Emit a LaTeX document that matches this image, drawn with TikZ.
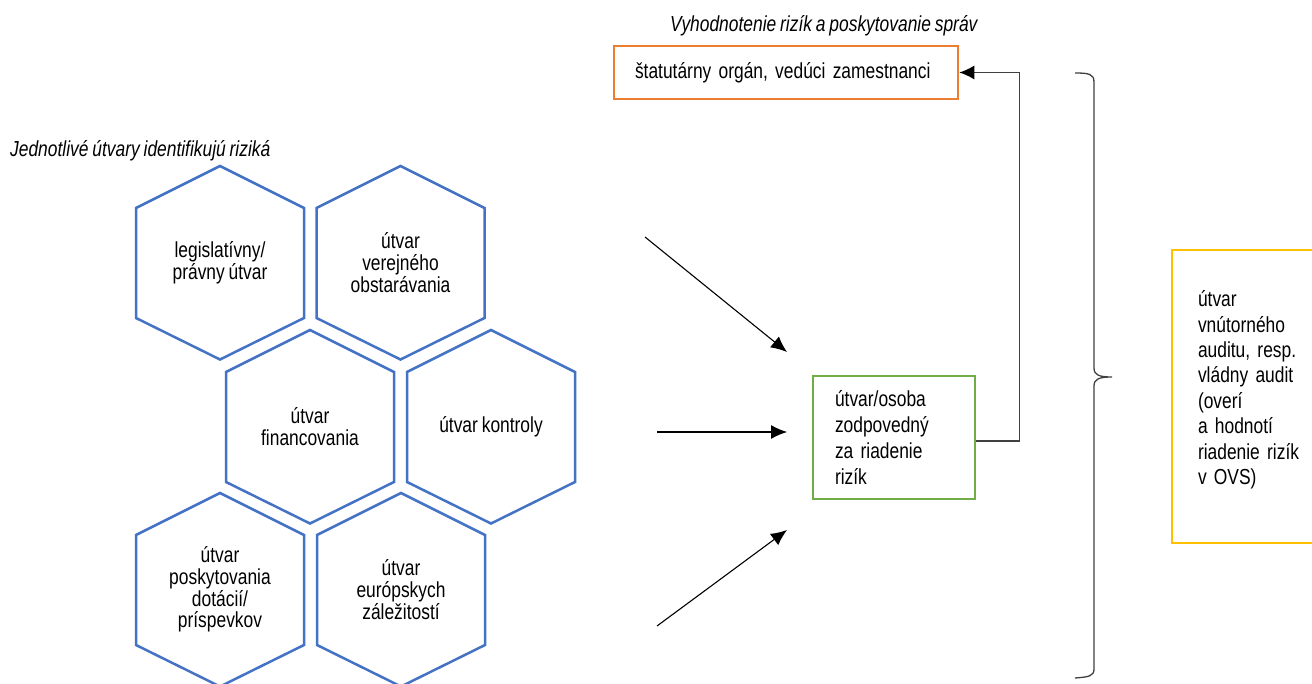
\documentclass[tikz,border=0pt]{standalone}
\usepackage{fontspec}
\setmainfont{Liberation Sans}[FakeStretch=0.8,WordSpace=0.8]
\usetikzlibrary{arrows.meta,calc}
\definecolor{hexblue}{HTML}{4472C4}
\definecolor{boxorange}{HTML}{ED7D31}
\definecolor{boxgreen}{HTML}{70AD47}
\definecolor{boxyellow}{HTML}{FFC000}
\definecolor{conngray}{HTML}{404040}
\newcommand\txtfont{\fontsize{21.75}{21.7}\selectfont}
\tikzset{
  hextext/.style={align=center, inner sep=0pt, font=\txtfont},
  hexline/.style={draw=hexblue, line width=2.5pt, line join=miter},
  title/.style={inner sep=0pt, font=\txtfont\itshape},
  flowarrow/.style={draw=black, line width=1.1pt, -{Latex[length=16pt,width=14pt]}},
  conn/.style={draw=conngray, line width=1.4pt, -{Latex[length=15pt,width=14pt,fill=black,color=black]}},
  brace/.style={draw=conngray, line width=1.3pt},
}
\newcommand\hexa[4]{%
  \node[hextext] (#1) at (#2,#3) {#4};
  \draw[hexline] ([shift={(0,-96.5)}]#1.center) -- ++(84,42) -- ++(0,110) -- ++(-84,41.5) -- ++(-84,-41.5) -- ++(0,-110) -- cycle;
}
\begin{document}
\begin{tikzpicture}[x=1pt,y=-1pt]
\useasboundingbox (0,0) rectangle (1312,684);
\fill[white] (0,0) rectangle (1312,684);

% titles
\node[title, anchor=base west] (t1) at (10,157) {Jednotlivé útvary identifikujú riziká};
\node[title, anchor=base west] (t2) at (670,31.5) {Vyhodnotenie rizík a poskytovanie správ};

% hexagons
\hexa{h1}{220}{262.5}{legislatívny/\\právny útvar}
\hexa{h2}{400.5}{262.5}{útvar\\verejného\\obstarávania}
\hexa{h3}{310}{426.5}{útvar\\financovania}
\hexa{h4}{491}{426.5}{útvar kontroly}
\hexa{h5}{220}{589.5}{útvar\\poskytovania\\dotácií/\\príspevkov}
\hexa{h6}{401}{589.5}{útvar\\európskych\\záležitostí}

% boxes
\node[draw=boxorange, line width=2.5pt, minimum width=344pt, minimum height=53pt,
      text width=302pt, inner xsep=21pt, align=left, font=\txtfont] (org) at (786,72.5)
  {štatutárny orgán, vedúci zamestnanci};

\node[draw=boxgreen, line width=2.5pt, minimum width=162pt, minimum height=123pt,
      text width=118pt, inner xsep=22pt, align=left,
      font=\fontsize{21.75}{26.3}\selectfont] (risk) at (894,437.5)
  {útvar/osoba\\zodpovedný\\za riadenie\\rizík};

\node[draw=boxyellow, line width=2.5pt, minimum width=170pt, minimum height=293pt,
      text width=118pt, inner xsep=26pt, align=left,
      font=\fontsize{21.75}{25.4}\selectfont] (audit) at (1257,396.5)
  {útvar\\vnútorného\\auditu, resp.\\vládny audit\\(overí\\a hodnotí\\riadenie rizík\\v OVS)\rule[-18pt]{0pt}{18pt}};

% incoming arrows
\coordinate (a1s) at (645,237);
\coordinate (a1e) at (787,352);
\coordinate (a2s) at (657,432);
\coordinate (a2e) at (787,432);
\coordinate (a3s) at (657,626);
\coordinate (a3e) at (787,530);
\draw[flowarrow] (a1s) -- (a1e);
\draw[flowarrow] (a2s) -- (a2e);
\draw[flowarrow] (a3s) -- (a3e);

% connector green -> orange
\draw[conn] ([yshift=-3.5pt]risk.east) -- ++(43,0) |- (org.east);

% brace
\draw[brace] (1075,73) .. controls (1089,73) and (1094,74) .. (1094,82)
  -- (1094,368) .. controls (1094,375) and (1099,377) .. (1112,377)
  .. controls (1099,377) and (1094,379) .. (1094,386)
  -- (1094,669) .. controls (1094,676) and (1089,677) .. (1075,678);
\end{tikzpicture}
\end{document}
